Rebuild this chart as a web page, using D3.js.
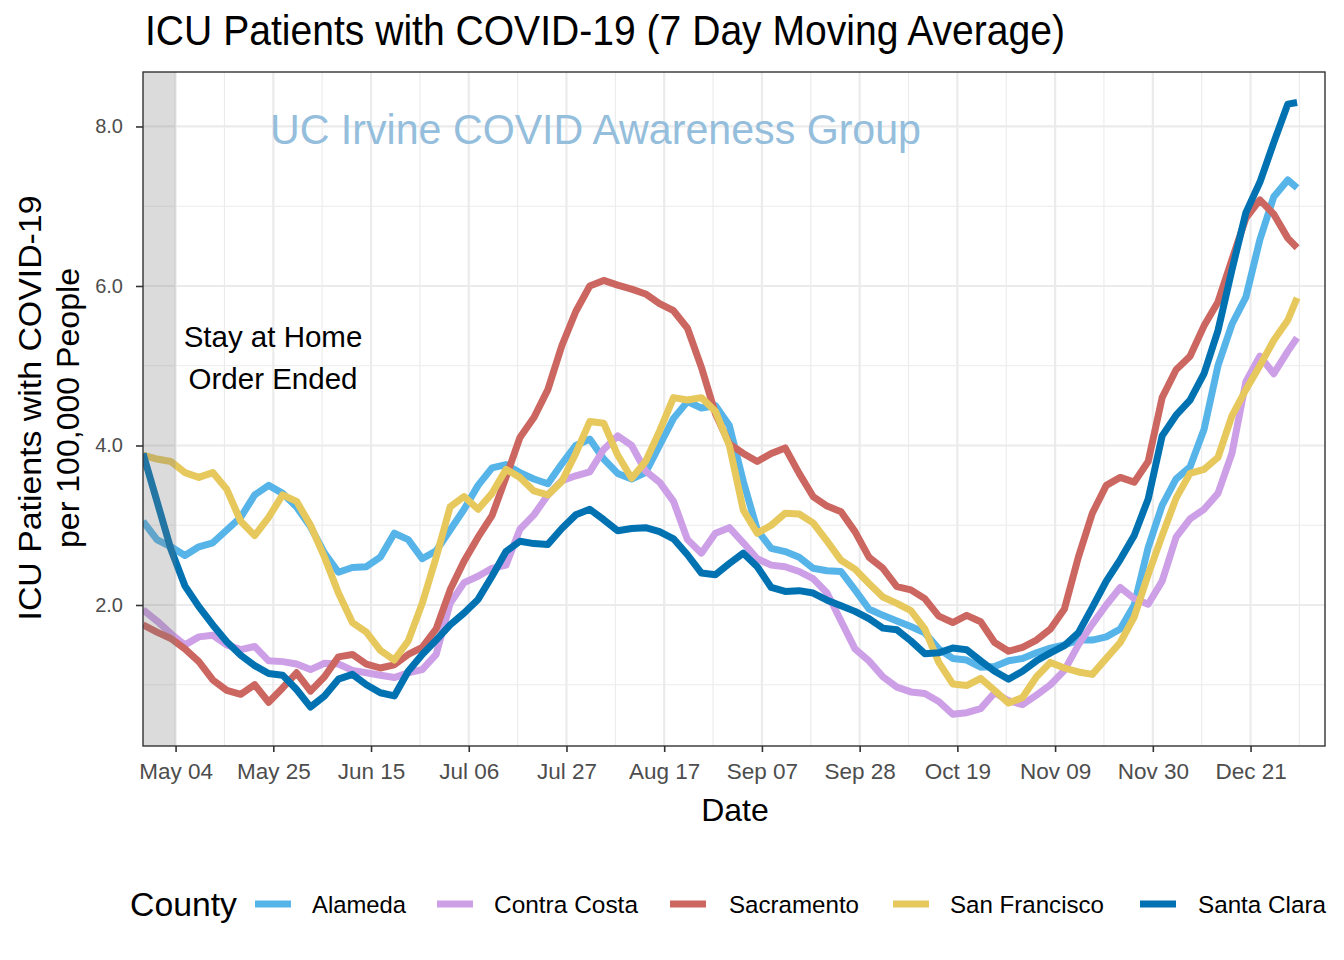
<!DOCTYPE html>
<html>
<head>
<meta charset="utf-8">
<script src="https://cdn.jsdelivr.net/npm/d3@7"></script>
<style>
  html, body { margin: 0; padding: 0; background: #ffffff; }
  svg { display: block; font-family: "Liberation Sans", Arial, Helvetica, sans-serif; }
</style>
</head>
<body>
<svg id="chart" width="1344" height="960"></svg>
<script>
// ---------------- DATA ----------------
const dates = [
  "2020-04-27","2020-04-30","2020-05-03","2020-05-06","2020-05-09","2020-05-12","2020-05-15","2020-05-18",
  "2020-05-21","2020-05-24","2020-05-27","2020-05-30","2020-06-02","2020-06-05","2020-06-08","2020-06-11",
  "2020-06-14","2020-06-17","2020-06-20","2020-06-23","2020-06-26","2020-06-29","2020-07-02","2020-07-05",
  "2020-07-08","2020-07-11","2020-07-14","2020-07-17","2020-07-20","2020-07-23","2020-07-26","2020-07-29",
  "2020-08-01","2020-08-04","2020-08-07","2020-08-10","2020-08-13","2020-08-16","2020-08-19","2020-08-22",
  "2020-08-25","2020-08-28","2020-08-31","2020-09-03","2020-09-06","2020-09-09","2020-09-12","2020-09-15",
  "2020-09-18","2020-09-21","2020-09-24","2020-09-27","2020-09-30","2020-10-03","2020-10-06","2020-10-09",
  "2020-10-12","2020-10-15","2020-10-18","2020-10-21","2020-10-24","2020-10-27","2020-10-30","2020-11-02",
  "2020-11-05","2020-11-08","2020-11-11","2020-11-14","2020-11-17","2020-11-20","2020-11-23","2020-11-26",
  "2020-11-29","2020-12-02","2020-12-05","2020-12-08","2020-12-11","2020-12-14","2020-12-17","2020-12-20",
  "2020-12-23","2020-12-26","2020-12-29","2020-12-31"
];

const alameda = [
  3.05,2.82,2.73,2.62,2.73,2.78,2.94,3.10,3.38,3.50,3.40,3.23,2.98,2.65,2.41,2.47,
  2.48,2.60,2.90,2.82,2.58,2.68,2.94,3.20,3.50,3.72,3.76,3.66,3.58,3.52,3.77,4.00,
  4.08,3.83,3.65,3.58,3.66,4.00,4.34,4.55,4.47,4.50,4.25,3.55,2.94,2.71,2.67,2.60,
  2.46,2.43,2.42,2.19,1.95,1.87,1.80,1.73,1.65,1.45,1.33,1.31,1.22,1.23,1.30,1.33,
  1.40,1.46,1.50,1.56,1.56,1.60,1.70,2.00,2.72,3.25,3.58,3.73,4.20,5.00,5.52,5.86,
  6.58,7.12,7.33,7.23
];
const contraCosta = [
  1.94,1.80,1.64,1.50,1.60,1.62,1.50,1.44,1.48,1.30,1.29,1.26,1.19,1.27,1.26,1.18,
  1.15,1.12,1.09,1.15,1.19,1.38,2.02,2.28,2.36,2.46,2.50,2.95,3.13,3.38,3.56,3.62,
  3.67,3.95,4.12,4.00,3.68,3.54,3.30,2.82,2.65,2.90,2.97,2.78,2.58,2.50,2.48,2.42,
  2.33,2.15,1.80,1.45,1.30,1.10,0.97,0.91,0.89,0.79,0.63,0.65,0.70,0.90,0.80,0.75,
  0.87,1.00,1.18,1.50,1.76,2.00,2.22,2.08,2.01,2.30,2.85,3.08,3.20,3.40,3.90,4.80,
  5.12,4.90,5.18,5.35
];
const sacramento = [
  1.75,1.66,1.58,1.45,1.29,1.06,0.93,0.88,1.00,0.78,0.96,1.15,0.92,1.10,1.35,1.38,
  1.26,1.21,1.25,1.38,1.47,1.70,2.19,2.55,2.85,3.12,3.60,4.10,4.35,4.70,5.25,5.68,
  6.00,6.07,6.01,5.96,5.90,5.78,5.69,5.47,4.98,4.40,4.02,3.90,3.80,3.90,3.97,3.65,
  3.36,3.24,3.17,2.92,2.60,2.46,2.23,2.19,2.08,1.86,1.78,1.87,1.79,1.53,1.42,1.47,
  1.56,1.70,1.95,2.60,3.15,3.50,3.60,3.54,3.80,4.60,4.95,5.12,5.50,5.80,6.33,6.85,
  7.08,6.90,6.60,6.48
];
const sanFrancisco = [
  3.88,3.83,3.80,3.66,3.60,3.66,3.45,3.05,2.87,3.10,3.38,3.30,3.00,2.60,2.15,1.78,
  1.66,1.43,1.31,1.55,2.02,2.60,3.23,3.36,3.20,3.40,3.70,3.60,3.43,3.38,3.55,3.90,
  4.30,4.28,3.88,3.59,3.80,4.18,4.60,4.57,4.60,4.43,4.00,3.19,2.90,3.00,3.15,3.14,
  3.03,2.80,2.56,2.45,2.27,2.10,2.02,1.93,1.70,1.28,1.01,0.99,1.08,0.93,0.77,0.84,
  1.10,1.28,1.21,1.16,1.13,1.33,1.53,1.85,2.38,2.87,3.34,3.65,3.70,3.85,4.37,4.70,
  5.00,5.32,5.57,5.85
];
const santaClara = [
  3.90,3.30,2.70,2.24,1.98,1.75,1.54,1.37,1.24,1.14,1.12,0.94,0.72,0.86,1.07,1.13,
  1.00,0.90,0.86,1.17,1.38,1.56,1.75,1.90,2.07,2.36,2.67,2.80,2.77,2.76,2.96,3.13,
  3.20,3.07,2.93,2.96,2.97,2.92,2.83,2.63,2.40,2.38,2.52,2.65,2.48,2.22,2.17,2.18,
  2.15,2.06,1.99,1.92,1.83,1.71,1.69,1.55,1.39,1.40,1.46,1.44,1.30,1.17,1.07,1.17,
  1.30,1.40,1.49,1.65,1.97,2.30,2.57,2.87,3.33,4.12,4.38,4.57,4.90,5.44,6.20,6.92,
  7.30,7.80,8.28,8.30
];

const counties = ["Alameda","Contra Costa","Sacramento","San Francisco","Santa Clara"];
const seriesValues = [alameda, contraCosta, sacramento, sanFrancisco, santaClara];
const countyColors = ["#56B4E9","#CC9FE6","#CC6660","#E6C85C","#0072B2"];

const xTickDates = ["2020-05-04","2020-05-25","2020-06-15","2020-07-06","2020-07-27","2020-08-17",
                    "2020-09-07","2020-09-28","2020-10-19","2020-11-09","2020-11-30","2020-12-21"];
const xTickLabels = ["May 04","May 25","Jun 15","Jul 06","Jul 27","Aug 17",
                     "Sep 07","Sep 28","Oct 19","Nov 09","Nov 30","Dec 21"];
const yTicks = [2, 4, 6, 8];
const yTickLabels = ["2.0","4.0","6.0","8.0"];
const yMinor = [1, 3, 5, 7];
const xDomain = ["2020-04-27","2021-01-06"];
const yDomain = [0.232, 8.683];
const stayHomeEnd = ["2020-04-27","2020-05-04"];

// ---------------- LAYOUT ----------------
const parse = d3.utcParse("%Y-%m-%d");
const panel = {left: 143, right: 1325, top: 72, bottom: 746};

const svg = d3.select("#chart");
const x = d3.scaleUtc().domain(xDomain.map(parse)).range([panel.left, panel.right]);
const y = d3.scaleLinear().domain(yDomain).range([panel.bottom, panel.top]);

const majorDates = xTickDates.map(parse);
const stepMs = majorDates[1] - majorDates[0];
const minorDates = [];
for (let i = -1; i < majorDates.length; i++) {
  const t = new Date(+majorDates[0] + stepMs * (i + 0.5));
  if (t >= x.domain()[0] && t <= x.domain()[1]) minorDates.push(t);
}

const g = svg.append("g");

g.append("rect").attr("x", panel.left).attr("y", panel.top)
  .attr("width", panel.right - panel.left).attr("height", panel.bottom - panel.top)
  .attr("fill", "#ffffff");

// grid
const grid = g.append("g");
grid.selectAll("line.ymin").data(yMinor).join("line")
  .attr("x1", panel.left).attr("x2", panel.right)
  .attr("y1", d => y(d)).attr("y2", d => y(d))
  .attr("stroke", "#ebebeb").attr("stroke-width", 1.1);
grid.selectAll("line.xmin").data(minorDates).join("line")
  .attr("y1", panel.top).attr("y2", panel.bottom)
  .attr("x1", d => x(d)).attr("x2", d => x(d))
  .attr("stroke", "#ebebeb").attr("stroke-width", 1.1);
grid.selectAll("line.ymaj").data(yTicks).join("line")
  .attr("x1", panel.left).attr("x2", panel.right)
  .attr("y1", d => y(d)).attr("y2", d => y(d))
  .attr("stroke", "#ebebeb").attr("stroke-width", 2.2);
grid.selectAll("line.xmaj").data(majorDates).join("line")
  .attr("y1", panel.top).attr("y2", panel.bottom)
  .attr("x1", d => x(d)).attr("x2", d => x(d))
  .attr("stroke", "#ebebeb").attr("stroke-width", 2.2);

svg.append("defs").append("clipPath").attr("id", "clip")
  .append("rect").attr("x", panel.left).attr("y", panel.top)
  .attr("width", panel.right - panel.left).attr("height", panel.bottom - panel.top);

// watermark
g.append("text").attr("x", 270).attr("y", 144)
  .attr("font-size", 43).attr("fill", "#94bedc")
  .attr("textLength", 651).attr("lengthAdjust", "spacingAndGlyphs")
  .text("UC Irvine COVID Awareness Group");

// annotation
const ann = g.append("text").attr("font-size", 29.5).attr("fill", "#000")
  .attr("text-anchor", "middle");
ann.append("tspan").attr("x", 273).attr("y", 347).text("Stay at Home");
ann.append("tspan").attr("x", 273).attr("y", 389).text("Order Ended");

// lines
const parsedDates = dates.map(parse);
const line = d3.line().x((d, i) => x(parsedDates[i])).y(d => y(d));
const lines = g.append("g").attr("clip-path", "url(#clip)");
seriesValues.forEach((vals, k) => {
  lines.append("path").datum(vals)
    .attr("d", line)
    .attr("fill", "none")
    .attr("stroke", countyColors[k])
    .attr("stroke-width", 7)
    .attr("stroke-linejoin", "round")
    .attr("stroke-linecap", "butt");
});

// shaded region (translucent, on top)
g.append("rect")
  .attr("x", x(parse(stayHomeEnd[0]))).attr("y", panel.top)
  .attr("width", x(parse(stayHomeEnd[1])) - x(parse(stayHomeEnd[0])))
  .attr("height", panel.bottom - panel.top)
  .attr("fill", "#7f7f7f").attr("fill-opacity", 0.28);

// panel border
g.append("rect").attr("x", panel.left).attr("y", panel.top)
  .attr("width", panel.right - panel.left).attr("height", panel.bottom - panel.top)
  .attr("fill", "none").attr("stroke", "#333333").attr("stroke-width", 1.4);

// axes
const xAxis = d3.axisBottom(x).tickValues(majorDates)
  .tickFormat((d, i) => xTickLabels[i]).tickSize(6).tickPadding(11);
const xg = g.append("g").attr("transform", `translate(0,${panel.bottom})`).call(xAxis);
xg.select(".domain").remove();
xg.selectAll(".tick line").attr("stroke", "#333333").attr("stroke-width", 1.6);
xg.selectAll(".tick text").attr("fill", "#4d4d4d").attr("font-size", 22.5)
  .attr("font-family", "Liberation Sans, Arial, sans-serif");

const yAxis = d3.axisLeft(y).tickValues(yTicks)
  .tickFormat((d, i) => yTickLabels[i]).tickSize(7).tickPadding(13);
const yg = g.append("g").attr("transform", `translate(${panel.left},0)`).call(yAxis);
yg.select(".domain").remove();
yg.selectAll(".tick line").attr("stroke", "#333333").attr("stroke-width", 1.6);
yg.selectAll(".tick text").attr("fill", "#4d4d4d").attr("font-size", 20)
  .attr("font-family", "Liberation Sans, Arial, sans-serif");

// title
svg.append("text").attr("x", 145).attr("y", 45)
  .attr("font-size", 43).attr("fill", "#000")
  .attr("textLength", 920).attr("lengthAdjust", "spacingAndGlyphs")
  .text("ICU Patients with COVID-19  (7 Day Moving Average)");

// axis titles
svg.append("text").attr("x", 735).attr("y", 821).attr("text-anchor", "middle")
  .attr("font-size", 32).attr("fill", "#000").text("Date");

const yt = svg.append("text").attr("transform", "translate(0,408) rotate(-90)")
  .attr("text-anchor", "middle").attr("font-size", 31).attr("fill", "#000");
yt.append("tspan").attr("x", 0).attr("y", 41).attr("textLength", 425)
  .attr("lengthAdjust", "spacingAndGlyphs").text("ICU Patients with COVID-19");
yt.append("tspan").attr("x", 0).attr("y", 79).attr("textLength", 280)
  .attr("lengthAdjust", "spacingAndGlyphs").text("per 100,000 People");

// legend
const legend = svg.append("g");
legend.append("text").attr("x", 130).attr("y", 916).attr("font-size", 33)
  .attr("fill", "#000").attr("textLength", 107).attr("lengthAdjust", "spacingAndGlyphs")
  .text("County");
const keyX = [255, 437, 670, 893, 1140];
const labX = [312, 494, 729, 950, 1198];
const labW = [94, 144, 130, 154, 128];
counties.forEach((c, k) => {
  legend.append("line").attr("x1", keyX[k]).attr("x2", keyX[k] + 36)
    .attr("y1", 904).attr("y2", 904)
    .attr("stroke", countyColors[k]).attr("stroke-width", 7);
  legend.append("text").attr("x", labX[k]).attr("y", 913)
    .attr("font-size", 24.5).attr("fill", "#000")
    .attr("textLength", labW[k]).attr("lengthAdjust", "spacingAndGlyphs").text(c);
});
</script>
</body>
</html>
